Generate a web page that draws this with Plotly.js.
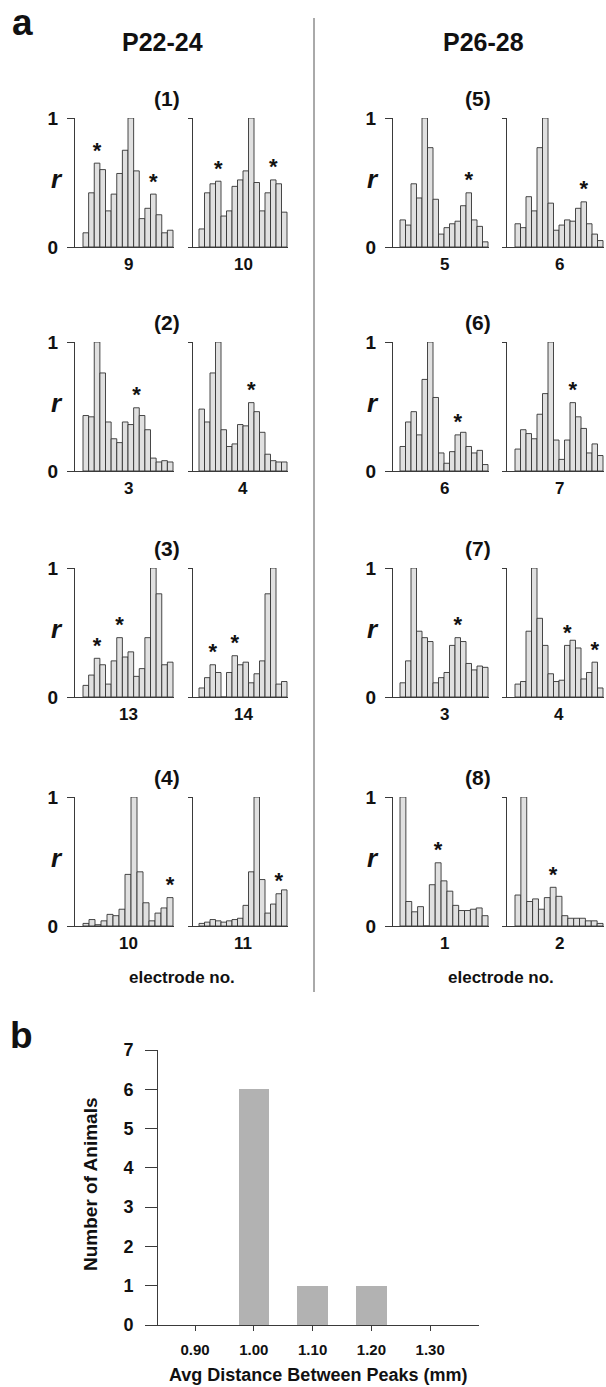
<!DOCTYPE html>
<html><head><meta charset="utf-8">
<script src="https://cdn.plot.ly/plotly-3.0.1.min.js"></script>
<style>html,body{margin:0;padding:0;background:#fff}#chart{width:606px;height:1387px}</style>
</head><body><div id="chart"></div>
<script>
// ---------------- DATA ----------------
const ageLabels = ['P22-24', 'P26-28'];
const groupLabels = ['(1)', '(2)', '(3)', '(4)', '(5)', '(6)', '(7)', '(8)'];
const electrodeLabels = [['9', '10'], ['3', '4'], ['13', '14'], ['10', '11'],
                         ['5', '6'], ['6', '7'], ['3', '4'], ['1', '2']];
const xAxisLabel = 'electrode no.';
const yAxisLabel = 'r';

// correlation r per electrode, group (1)..(8), reference electrode left / right
const r_g1_e9  = [0.11, 0.42, 0.65, 0.60, 0.28, 0.41, 0.57, 0.75, 1.00, 0.59, 0.22, 0.30, 0.41, 0.25, 0.11, 0.13];
const r_g1_e10 = [0.14, 0.42, 0.49, 0.51, 0.24, 0.28, 0.47, 0.52, 0.59, 1.00, 0.50, 0.28, 0.42, 0.52, 0.49, 0.27];
const r_g2_e3  = [0.43, 0.42, 1.00, 0.76, 0.38, 0.25, 0.22, 0.38, 0.36, 0.49, 0.43, 0.32, 0.10, 0.07, 0.08, 0.07];
const r_g2_e4  = [0.48, 0.38, 0.76, 1.00, 0.32, 0.19, 0.21, 0.36, 0.35, 0.53, 0.46, 0.30, 0.13, 0.08, 0.07, 0.07];
const r_g3_e13 = [0.09, 0.17, 0.30, 0.25, 0.10, 0.28, 0.46, 0.31, 0.35, 0.16, 0.22, 0.46, 1.00, 0.80, 0.25, 0.27];
const r_g3_e14 = [0.07, 0.15, 0.25, 0.19, 0.00, 0.19, 0.32, 0.25, 0.27, 0.11, 0.18, 0.28, 0.80, 1.00, 0.10, 0.12];
const r_g4_e10 = [0.02, 0.05, 0.01, 0.04, 0.09, 0.08, 0.13, 0.40, 1.00, 0.42, 0.18, 0.04, 0.10, 0.14, 0.22];
const r_g4_e11 = [0.02, 0.03, 0.05, 0.04, 0.03, 0.04, 0.05, 0.06, 0.16, 0.42, 1.00, 0.36, 0.10, 0.17, 0.25, 0.28];
const r_g5_e5  = [0.21, 0.17, 0.49, 0.38, 1.00, 0.77, 0.37, 0.10, 0.15, 0.18, 0.20, 0.32, 0.42, 0.21, 0.16, 0.04];
const r_g5_e6  = [0.18, 0.15, 0.39, 0.28, 0.77, 1.00, 0.34, 0.13, 0.17, 0.21, 0.20, 0.30, 0.35, 0.18, 0.10, 0.05];
const r_g6_e6  = [0.19, 0.38, 0.46, 0.28, 0.71, 1.00, 0.57, 0.14, 0.06, 0.15, 0.28, 0.30, 0.19, 0.14, 0.16, 0.05];
const r_g6_e7  = [0.17, 0.32, 0.29, 0.25, 0.44, 0.60, 1.00, 0.24, 0.09, 0.24, 0.53, 0.42, 0.33, 0.14, 0.21, 0.12];
const r_g7_e3  = [0.11, 0.28, 1.00, 0.51, 0.46, 0.43, 0.11, 0.15, 0.19, 0.40, 0.46, 0.43, 0.26, 0.21, 0.24, 0.23];
const r_g7_e4  = [0.10, 0.12, 0.51, 1.00, 0.61, 0.40, 0.18, 0.12, 0.13, 0.40, 0.44, 0.38, 0.14, 0.19, 0.27, 0.07];
const r_g8_e1  = [1.00, 0.19, 0.11, 0.15, 0.00, 0.32, 0.49, 0.35, 0.27, 0.16, 0.12, 0.12, 0.13, 0.14, 0.08];
const r_g8_e2  = [0.24, 1.00, 0.19, 0.21, 0.13, 0.22, 0.30, 0.23, 0.08, 0.06, 0.06, 0.06, 0.04, 0.04, 0.02];

// bar positions (1-based) marked with an asterisk
const stars_g1_e9  = [3, 13];
const stars_g1_e10 = [4, 14];
const stars_g2_e3  = [10];
const stars_g2_e4  = [10];
const stars_g3_e13 = [3, 7];
const stars_g3_e14 = [3, 7];
const stars_g4_e10 = [15];
const stars_g4_e11 = [15];
const stars_g5_e5  = [13];
const stars_g5_e6  = [13];
const stars_g6_e6  = [11];
const stars_g6_e7  = [11];
const stars_g7_e3  = [11];
const stars_g7_e4  = [10, 15];
const stars_g8_e1  = [7];
const stars_g8_e2  = [7];

const rTickVals = [0, 1];
const rTickText = ['0', '1'];

// panel b
const distValues = [0.90, 1.00, 1.10, 1.20, 1.30];
const distTickText = ['0.90', '1.00', '1.10', '1.20', '1.30'];
const animalCounts = [0, 6, 1, 1, 0];
const countTicks = [0, 1, 2, 3, 4, 5, 6, 7];
const bXLabel = 'Avg Distance Between Peaks (mm)';
const bYLabel = 'Number of Animals';

// ---------------- LAYOUT HELPERS ----------------
const W = 606, H = 1387;
const X = px => px / W;
const Y = py => 1 - py / H;
const FONT = 'Liberation Sans, Arial, Helvetica, sans-serif';
const INK = '#111';
const LINE = '#3a3a3a';

const seriesList = [
  [r_g1_e9, stars_g1_e9], [r_g1_e10, stars_g1_e10],
  [r_g2_e3, stars_g2_e3], [r_g2_e4, stars_g2_e4],
  [r_g3_e13, stars_g3_e13], [r_g3_e14, stars_g3_e14],
  [r_g4_e10, stars_g4_e10], [r_g4_e11, stars_g4_e11],
  [r_g5_e5, stars_g5_e5], [r_g5_e6, stars_g5_e6],
  [r_g6_e6, stars_g6_e6], [r_g6_e7, stars_g6_e7],
  [r_g7_e3, stars_g7_e3], [r_g7_e4, stars_g7_e4],
  [r_g8_e1, stars_g8_e1], [r_g8_e2, stars_g8_e2]
];

// sub-column geometry (px): y-axis line, first bar left edge, last bar right edge
const cols = [
  {axis: 75, b0: 83, b1: 173},
  {axis: 193, b0: 199, b1: 287},
  {axis: 393, b0: 400, b1: 488},
  {axis: 507, b0: 515, b1: 603}
];
const rows = [
  {top: 118, base: 247},
  {top: 342, base: 471},
  {top: 568, base: 697},
  {top: 797, base: 926}
];
const groupCenterX = [167, 478];
const rLabelX = [57, 373];

const traces = [];
const layout = {
  width: W, height: H,
  margin: {l: 0, r: 0, t: 0, b: 0, pad: 0},
  paper_bgcolor: '#fff', plot_bgcolor: 'rgba(0,0,0,0)',
  showlegend: false, bargap: 0,
  font: {family: FONT, color: INK},
  annotations: [], shapes: []
};

function ann(text, px, py, size, extra) {
  layout.annotations.push(Object.assign({
    text: text, xref: 'paper', yref: 'paper', x: X(px), y: Y(py),
    xanchor: 'center', yanchor: 'middle', showarrow: false,
    font: {family: FONT, size: size, color: INK, weight: 'bold'}
  }, extra || {}));
}

seriesList.forEach(([vals, stars], i) => {
  const k = i + 1;
  const g = Math.floor(i / 2);          // group 0..7
  const side = i % 2;                    // 0 left sub-panel, 1 right
  const colGroup = g < 4 ? 0 : 1;
  const row = rows[g % 4];
  const c = cols[colGroup * 2 + side];
  const n = vals.length;
  const u = (c.b1 - c.b0) / n;
  const idx = vals.map((_, j) => j + 1);

  layout['xaxis' + k] = {
    domain: [X(c.axis), X(c.b1 + 1)],
    range: [0.5 - (c.b0 - c.axis) / u, n + 0.5 + 1 / u],
    anchor: 'y' + k, showline: true, linecolor: LINE, linewidth: 1,
    ticks: '', showticklabels: false, showgrid: false, zeroline: false, fixedrange: true
  };
  layout['yaxis' + k] = {
    domain: [Y(row.base), Y(row.top)], range: [0, 1],
    anchor: 'x' + k, showline: true, linecolor: LINE, linewidth: 1,
    ticks: 'outside', ticklen: side === 0 ? 7 : 4, tickcolor: LINE, tickwidth: 1,
    tickvals: rTickVals, ticktext: rTickText,
    showticklabels: side === 0, ticklabelstandoff: 5,
    tickfont: {family: FONT, size: 19, color: INK, weight: 'bold'},
    showgrid: false, zeroline: false, fixedrange: true
  };
  traces.push({
    type: 'bar', x: idx, y: vals, width: 1,
    xaxis: 'x' + k, yaxis: 'y' + k,
    marker: {color: '#e0e0e0', line: {color: '#333', width: 0.9}},
    hoverinfo: 'skip'
  });
  traces.push({
    type: 'scatter', mode: 'text', x: stars, y: stars.map(s => vals[s - 1]),
    text: stars.map(() => '*'), textposition: 'top center', cliponaxis: false,
    textfont: {family: FONT, size: 22, color: INK, weight: 'bold'},
    xaxis: 'x' + k, yaxis: 'y' + k, hoverinfo: 'skip'
  });
  // electrode label under each sub-panel
  ann(electrodeLabels[g][side], (c.b0 + c.b1) / 2, row.base + 17, 17);
  if (side === 0) {
    ann(groupLabels[g], groupCenterX[colGroup], row.top - 20, 21);
    ann('<i>' + yAxisLabel + '</i>', rLabelX[colGroup], row.top + 61, 26);
  }
});

// panel b
const kb = 17;
layout['xaxis' + kb] = {
  domain: [X(158), X(479)], range: [0.837, 1.383], anchor: 'y' + kb,
  showline: true, linecolor: LINE, linewidth: 1,
  ticks: 'outside', ticklen: 5, tickcolor: LINE,
  tickvals: distValues, ticktext: distTickText, ticklabelstandoff: 6,
  tickfont: {family: FONT, size: 15, color: INK, weight: 'bold'},
  showgrid: false, zeroline: false, fixedrange: true
};
layout['yaxis' + kb] = {
  domain: [Y(1325), Y(1050)], range: [0, 7], anchor: 'x' + kb,
  showline: true, linecolor: LINE, linewidth: 1,
  ticks: 'outside', ticklen: 12, tickcolor: LINE,
  tickvals: countTicks, ticklabelstandoff: 8,
  tickfont: {family: FONT, size: 18, color: INK, weight: 'bold'},
  showgrid: false, zeroline: false, fixedrange: true
};
traces.push({
  type: 'bar', x: distValues, y: animalCounts, width: 0.052,
  xaxis: 'x' + kb, yaxis: 'y' + kb,
  marker: {color: '#b2b2b2', line: {width: 0}}, hoverinfo: 'skip'
});

// titles and panel letters
ann('a', 22, 0, 37, {yanchor: 'top'});
ann('b', 21, 1035, 37);
ann(ageLabels[0], 162, 42, 25);
ann(ageLabels[1], 483, 42, 25);
ann(xAxisLabel, 182, 977, 17);
ann(xAxisLabel, 501, 977, 17);
ann(bXLabel, 318, 1375, 18);
ann(bYLabel, 90, 1184, 19, {textangle: -90});

// vertical divider between age groups
layout.shapes.push({
  type: 'line', xref: 'paper', yref: 'paper',
  x0: X(314), x1: X(314), y0: Y(18), y1: Y(992),
  line: {color: '#555', width: 1}
});

Plotly.newPlot('chart', traces, layout, {displayModeBar: false, staticPlot: true});
</script>
</body></html>
